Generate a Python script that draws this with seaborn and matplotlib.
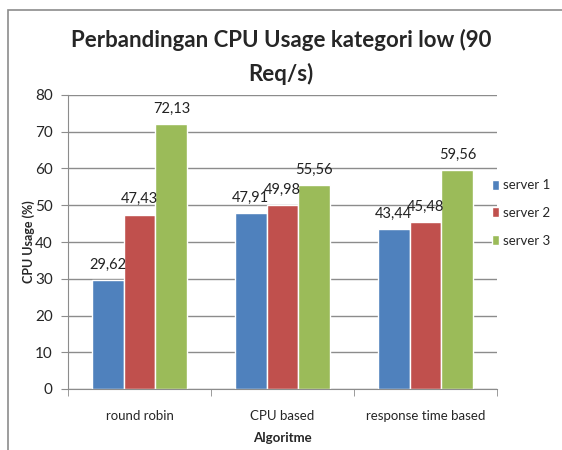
import matplotlib
matplotlib.use("Agg")
import matplotlib.pyplot as plt
import pandas as pd
import seaborn as sns
from matplotlib.patches import Rectangle

# chart values
algoritme = ["round robin", "CPU based", "response time based"]
servers = ["server 1", "server 2", "server 3"]
server1 = [29.62, 47.91, 43.44]
server2 = [47.43, 49.98, 45.48]
server3 = [72.13, 55.56, 59.56]
y_ticks = [0, 10, 20, 30, 40, 50, 60, 70, 80]

# office 2007 palette
colors = ["#4F81BD", "#C0504D", "#9BBB59"]

df = pd.DataFrame({
    "Algoritme": algoritme * 3,
    "server": [servers[0]] * 3 + [servers[1]] * 3 + [servers[2]] * 3,
    "usage": server1 + server2 + server3,
})

sns.set_style("white")
plt.rcParams["font.family"] = ["Lato", "DejaVu Sans"]

fig = plt.figure(figsize=(5.62, 4.5), dpi=100)
ax = fig.add_axes([68/562, 1 - 389/450, (497 - 68)/562, (389 - 95)/450])

sns.barplot(data=df, x="Algoritme", y="usage", hue="server", palette=colors,
            width=0.67, saturation=1, ax=ax, legend=True)

# data labels with comma decimals
for cont in ax.containers:
    ax.bar_label(cont, labels=[f"{b.get_height():.2f}".replace(".", ",") for b in cont],
                 padding=6, fontsize=10.5, color="#222222")

ax.set_ylim(0, 80)
ax.set_yticks(y_ticks)
ax.set_xlim(-0.5, 2.5)
ax.yaxis.grid(True, color="#8c8c8c", linewidth=1)
ax.set_axisbelow(True)
for s in ["top", "right"]:
    ax.spines[s].set_visible(False)
ax.spines["left"].set_color("#8c8c8c")
ax.spines["bottom"].set_color("#8c8c8c")

ax.tick_params(axis="y", length=5, color="#8c8c8c", labelsize=11, pad=6, direction="out", left=True)
ax.tick_params(axis="x", which="major", length=0, labelsize=9.5, pad=15)
ax.set_xticks([-0.5, 0.5, 1.5, 2.5], minor=True)
ax.tick_params(axis="x", which="minor", length=5, color="#8c8c8c", bottom=True)

ax.set_ylabel("CPU Usage (%)", fontsize=9, fontweight="bold")
ax.yaxis.set_label_coords(-(68 - 35)/429, 0.5)
ax.set_xlabel("Algoritme", fontsize=9.5, fontweight="bold", labelpad=7)

fig.text(0.5, 1 - 40/450, "Perbandingan CPU Usage kategori low (90", ha="center", va="center",
         fontsize=16, fontweight="bold")
fig.text(0.5, 1 - 74/450, "Req/s)", ha="center", va="center",
         fontsize=16, fontweight="bold")

leg = ax.legend(loc="center left", bbox_to_anchor=(492/562, 1 - 213/450),
                bbox_transform=fig.transFigure, frameon=False,
                fontsize=9.5, handlelength=0.55, handleheight=0.8, handletextpad=0.3,
                labelspacing=1.2, borderaxespad=0.0, borderpad=0.0)

# chart frame like the office export
fig.patches.append(Rectangle((8/562, -0.1), 1.2, 1 - 10/450 + 0.1, transform=fig.transFigure,
                             fill=False, edgecolor="#8c8c8c", linewidth=1.2))

fig.savefig("out.png", dpi=100)
